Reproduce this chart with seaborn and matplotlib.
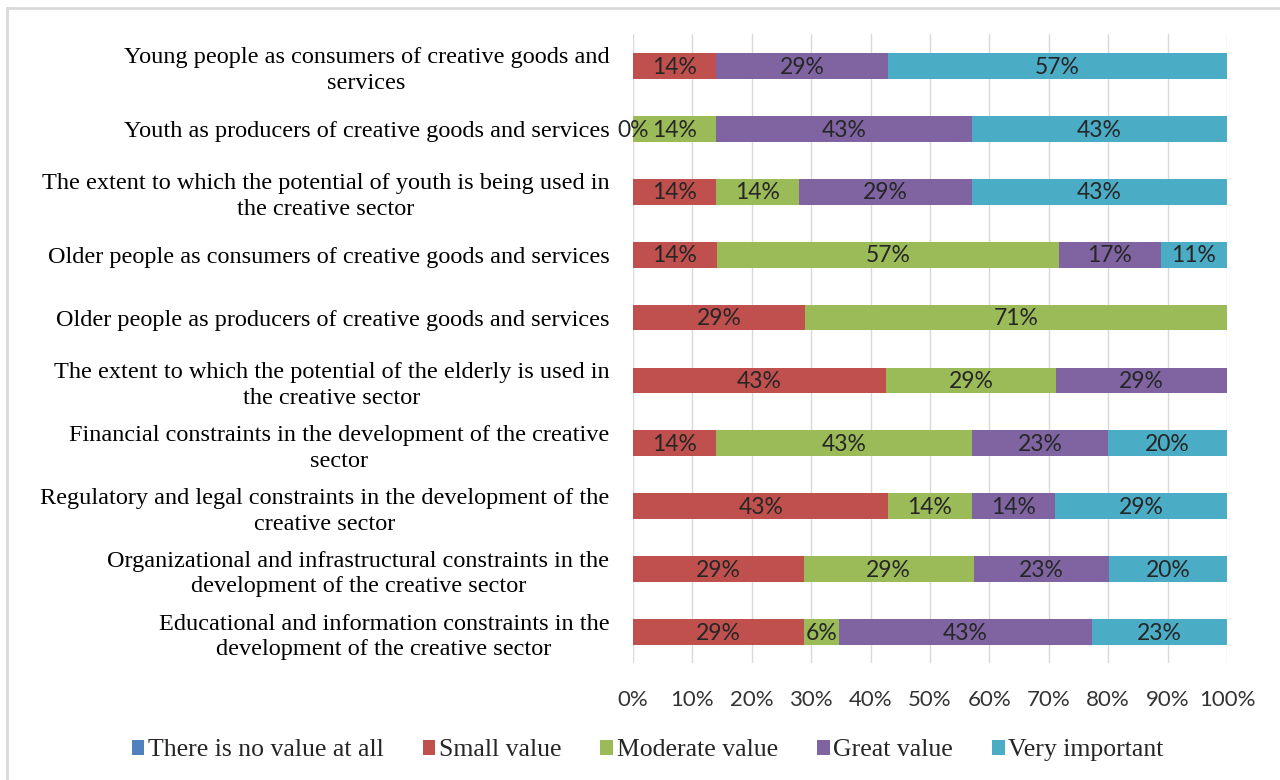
import matplotlib
matplotlib.use("Agg")
import matplotlib.pyplot as plt
from matplotlib.lines import Line2D
from matplotlib.patches import Patch
import numpy as np
import pandas as pd
import seaborn as sns

categories = [
    "Young people as consumers of creative goods and\nservices",
    "Youth as producers of creative goods and services",
    "The extent to which the potential of youth is being used in\nthe creative sector",
    "Older people as consumers of creative goods and services",
    "Older people as producers of creative goods and services",
    "The extent to which the potential of the elderly is used in\nthe creative sector",
    "Financial constraints in the development of the creative\nsector",
    "Regulatory and legal constraints in the development of the\ncreative sector",
    "Organizational and infrastructural constraints in the\ndevelopment of the creative sector",
    "Educational and information constraints in the\ndevelopment of the creative sector",
]

series_names = ["There is no value at all", "Small value", "Moderate value",
                "Great value", "Very important"]

nan = np.nan
no_value = [nan, nan, nan, nan, nan, nan, nan, nan, nan, nan]
small_value = [14, 0, 14, 14, 29, 43, 14, 43, 29, 29]
moderate_value = [nan, 14, 14, 57, 71, 29, 43, 14, 29, 6]
great_value = [29, 43, 29, 17, nan, 29, 23, 14, 23, 43]
very_important = [57, 43, 43, 11, nan, nan, 20, 29, 20, 23]

series_colors = ["#4F81BD", "#C0504D", "#9BBB59", "#8064A2", "#4BACC6"]
tick_values = list(range(0, 101, 10))
tick_labels = [f"{t}%" for t in tick_values]

SERIF = ["Liberation Serif", "DejaVu Serif"]
SANS = ["Lato", "DejaVu Sans"]

sns.set_theme(style="white")
plt.rcParams["font.family"] = SERIF

values = np.array([no_value, small_value, moderate_value, great_value, very_important], dtype=float)
filled = np.nan_to_num(values)
shares = filled / filled.sum(axis=0) * 100.0
cum = np.cumsum(shares, axis=0)

fig = plt.figure(figsize=(12.8, 7.8), dpi=100)
ax = fig.add_axes([0.4945, 0.1494, 0.4641, 0.8064])

# stacked bars: draw cumulative totals from the last series back to the first
for i in range(len(series_names) - 1, -1, -1):
    df = pd.DataFrame({"category": categories, "cum": cum[i]})
    sns.barplot(data=df, x="cum", y="category", order=categories, orient="y",
                color=series_colors[i], saturation=1, width=0.41,
                linewidth=0, edgecolor="none", ax=ax, errorbar=None)

# value labels at the middle of each segment
for i in range(len(series_names)):
    prev = cum[i - 1] if i > 0 else np.zeros(len(categories))
    for j in range(len(categories)):
        v = values[i, j]
        if np.isnan(v):
            continue
        xc = prev[j] + shares[i, j] / 2
        ax.text(xc, j + 0.02, f"{int(round(v))}%", ha="center", va="center",
                fontsize=16.5, color="#262626", family=SANS)

ax.set_xlim(0, 100)
ax.set_ylim(len(categories) - 0.5, -0.5)
ax.set_xticks(tick_values)
ax.set_xticklabels(tick_labels, family=SANS, fontsize=16, color="#333333")
ax.set_xlabel("")
ax.set_ylabel("")
ax.set_axisbelow(True)
ax.xaxis.grid(True, color="#D9D9D9", linewidth=1)
ax.yaxis.grid(False)
for s in ax.spines.values():
    s.set_visible(False)
ax.tick_params(axis="x", length=0, pad=19)
ax.tick_params(axis="y", length=0, pad=17)
for lab in ax.get_yticklabels():
    lab.set_fontsize(17.5)
    lab.set_color("#000000")
    lab.set_multialignment("center")
    lab.set_family(SERIF)
    lab.set_linespacing(1.3)

handles = [Patch(facecolor=c, edgecolor="none") for c in series_colors]
fig.legend(handles, series_names, loc="center", bbox_to_anchor=(0.506, 0.038),
           ncol=5, frameon=False, handlelength=0.5, handleheight=0.5,
           handletextpad=0.15, columnspacing=1.5, prop={"family": SERIF, "size": 18.5})

# chart frame
fig.add_artist(Line2D([7 / 1280, 1.0], [1 - 8 / 780, 1 - 8 / 780], transform=fig.transFigure,
                      color="#D9D9D9", linewidth=2))
fig.add_artist(Line2D([7 / 1280, 7 / 1280], [0.0, 1 - 8 / 780], transform=fig.transFigure,
                      color="#D9D9D9", linewidth=2))

fig.savefig("out.png", dpi=100, facecolor="white")
